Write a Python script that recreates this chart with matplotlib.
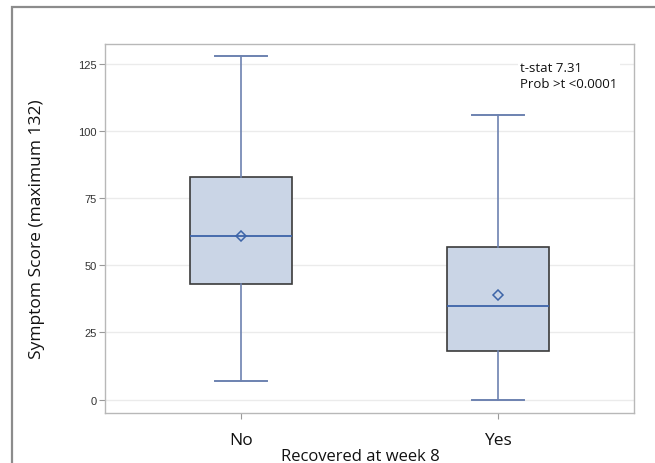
import matplotlib
matplotlib.use("Agg")
import matplotlib.pyplot as plt
from matplotlib.patches import Rectangle

# Summary statistics per group
groups = ["No", "Yes"]
whisker_low = [7, 0]
q1 = [43, 18]
median = [61, 35]
q3 = [83, 57]
whisker_high = [128, 106]
mean = [61, 39]

y_ticks = [0, 25, 50, 75, 100, 125]
stat_lines = ["t-stat 7.31", "Prob >t <0.0001"]

W, H, DPI = 655, 464, 100
fig = plt.figure(figsize=(W / DPI, H / DPI), dpi=DPI)
fig.patch.set_facecolor("white")

# outer frame around the graph area
fig.add_artist(Rectangle((12 / W, -0.1), 1.2, (H - 8) / H + 0.1,
                         transform=fig.transFigure, fill=False,
                         edgecolor="#8c8c8c", linewidth=1.6, clip_on=False))

L, R, T, B = 105, 634, 45, 414
ax = fig.add_axes([L / W, 1 - B / H, (R - L) / W, (B - T) / H])

positions = [1, 2]
stats = []
for i, g in enumerate(groups):
    stats.append(dict(label=g, whislo=whisker_low[i], q1=q1[i], med=median[i],
                      q3=q3[i], whishi=whisker_high[i], mean=mean[i], fliers=[]))

ax.bxp(stats, positions=positions, widths=0.40, capwidths=0.20,
       patch_artist=True, showmeans=True, showfliers=False,
       boxprops=dict(facecolor="#cad5e6", edgecolor="#3b3b3b", linewidth=1.2),
       medianprops=dict(color="#3d64a8", linewidth=1.3),
       whiskerprops=dict(color="#6d82b0", linewidth=1.2),
       capprops=dict(color="#6d82b0", linewidth=1.4),
       meanprops=dict(marker="D", markersize=5.5, markerfacecolor="none",
                      markeredgecolor="#3d64a8", markeredgewidth=1.1),
       zorder=3)

ax.set_xlim(0.47, 2.53)
ax.set_ylim(-5, 132.5)
ax.set_yticks(y_ticks)
ax.set_yticklabels([str(v) for v in y_ticks], fontfamily="Liberation Sans",
                   fontsize=8, color="#333333")
ax.set_xticks(positions)
ax.set_xticklabels(groups, fontfamily="Open Sans", fontsize=12.5, color="#111111")

ax.yaxis.grid(True, color="#ebebeb", linewidth=1.0, zorder=0)
ax.set_axisbelow(True)
for s in ax.spines.values():
    s.set_color("#b8b8b8")
    s.set_linewidth(1.0)
ax.tick_params(axis="y", length=4, width=0.8, color="#9a9a9a", pad=2)
ax.tick_params(axis="x", length=4, width=0.8, color="#9a9a9a", pad=10)

ax.set_ylabel("Symptom Score (maximum 132)", fontfamily="Open Sans",
              fontsize=12.5, color="#111111")
ax.yaxis.set_label_coords((45 - L) / (R - L), 0.5)
ax.set_xlabel("Recovered at week 8", fontfamily="Open Sans", fontsize=12,
              color="#111111")
ax.xaxis.set_label_coords((360 - L) / (R - L), -(457 - B) / (B - T))
ax.xaxis.label.set_va("center")

ax.text(0.785, 0.955, stat_lines[0] + "\n" + stat_lines[1], transform=ax.transAxes,
        fontfamily="Open Sans", fontsize=9.5, color="#111111", va="top", ha="left",
        linespacing=1.3,
        bbox=dict(facecolor="white", edgecolor="none", pad=1.5), zorder=4)

fig.savefig("out.png", dpi=DPI, facecolor="white")
